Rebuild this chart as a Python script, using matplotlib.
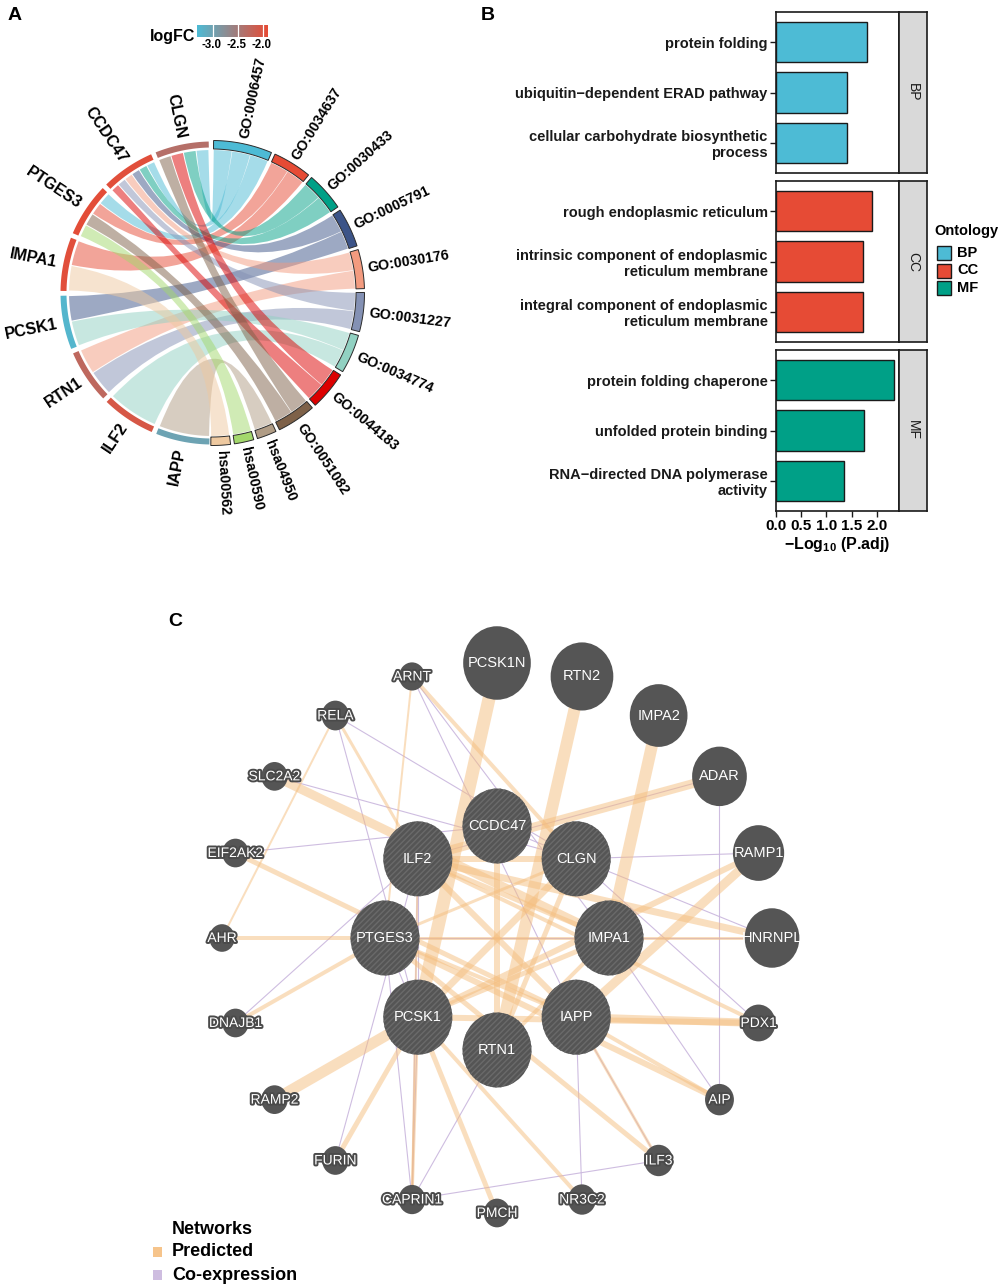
import numpy as np
import matplotlib
matplotlib.use('Agg')
import matplotlib.pyplot as plt
from matplotlib.path import Path
from matplotlib.patches import PathPatch, Polygon, Ellipse, Rectangle
from matplotlib.colors import LinearSegmentedColormap, Normalize
import matplotlib.patheffects as pe

plt.rcParams['font.family'] = ['Liberation Sans', 'DejaVu Sans']
plt.rcParams['mathtext.fontset'] = 'custom'
plt.rcParams['mathtext.rm'] = 'Liberation Sans'
plt.rcParams['mathtext.bf'] = 'Liberation Sans:bold'
plt.rcParams['mathtext.default'] = 'bf'
plt.rcParams['hatch.linewidth'] = 1.0

# ======================= DATA =======================
# ---- Panel A : GO chord ----
genes = ['IAPP', 'ILF2', 'RTN1', 'PCSK1', 'IMPA1', 'PTGES3', 'CCDC47', 'CLGN']
gene_logfc = [-3.02, -2.05, -2.27, -3.25, -1.95, -1.93, -1.95, -2.35]
terms = ['GO:0006457', 'GO:0034637', 'GO:0030433', 'GO:0005791', 'GO:0030176',
         'GO:0031227', 'GO:0034774', 'GO:0044183', 'GO:0051082',
         'hsa04950', 'hsa00590', 'hsa00562']
term_colors = ['#4DBBD5', '#E64B35', '#00A087', '#3C5488', '#F39B7F',
               '#8491B4', '#91D1C2', '#DC0000', '#7E6148',
               '#B09C85', '#A3D86C', '#EEC9A0']
link_genes = ['IAPP', 'ILF2', 'RTN1', 'RTN1', 'PCSK1', 'PCSK1', 'IMPA1', 'IMPA1',
              'PTGES3', 'PTGES3', 'PTGES3', 'PTGES3',
              'CCDC47', 'CCDC47', 'CCDC47', 'CCDC47', 'CCDC47', 'CCDC47',
              'CLGN', 'CLGN', 'CLGN', 'CLGN']
link_terms = ['hsa04950', 'GO:0034774', 'GO:0030176', 'GO:0031227', 'GO:0005791', 'GO:0034774',
              'GO:0034637', 'hsa00562',
              'GO:0006457', 'GO:0034637', 'GO:0051082', 'hsa00590',
              'GO:0006457', 'GO:0030433', 'GO:0005791', 'GO:0030176', 'GO:0031227', 'GO:0044183',
              'GO:0006457', 'GO:0030433', 'GO:0044183', 'GO:0051082']
logfc_ticks = [-3.0, -2.5, -2.0]
logfc_limits = [-3.32, -1.90]

# ---- Panel B : GO bar chart ----
ontologies = ['BP', 'CC', 'MF']
onto_colors = ['#4DBBD5', '#E64B35', '#00A087']
bp_terms = ['protein folding', 'ubiquitin\u2212dependent ERAD pathway',
            'cellular carbohydrate biosynthetic\nprocess']
bp_vals = [1.80, 1.41, 1.41]
cc_terms = ['rough endoplasmic reticulum', 'intrinsic component of endoplasmic\nreticulum membrane',
            'integral component of endoplasmic\nreticulum membrane']
cc_vals = [1.91, 1.72, 1.72]
mf_terms = ['protein folding chaperone', 'unfolded protein binding',
            'RNA\u2212directed DNA polymerase\nactivity']
mf_vals = [2.34, 1.75, 1.34]
x_ticks = [0.0, 0.5, 1.0, 1.5, 2.0]

# ---- Panel C : GeneMANIA network ----
query_genes = ['IMPA1', 'CLGN', 'CCDC47', 'ILF2', 'PTGES3', 'PCSK1', 'RTN1', 'IAPP']
outer_genes = ['HNRNPL', 'RAMP1', 'ADAR', 'IMPA2', 'RTN2', 'PCSK1N', 'ARNT', 'RELA',
               'SLC2A2', 'EIF2AK2', 'AHR', 'DNAJB1', 'RAMP2', 'FURIN', 'CAPRIN1',
               'PMCH', 'NR3C2', 'ILF3', 'AIP', 'PDX1']
outer_scores = [0.62, 0.55, 0.62, 0.68, 0.78, 0.88, 0.04, 0.07,
                0.05, 0.05, 0.03, 0.05, 0.05, 0.05, 0.06,
                0.05, 0.08, 0.10, 0.10, 0.20]
pred_a = ['PCSK1N', 'RTN2', 'IMPA2', 'ADAR', 'RAMP1', 'RAMP1', 'HNRNPL', 'HNRNPL', 'PDX1', 'PDX1',
          'PDX1', 'AIP', 'AIP', 'ILF3', 'ILF3', 'NR3C2', 'PMCH', 'CAPRIN1', 'CAPRIN1', 'FURIN',
          'RAMP2', 'DNAJB1', 'AHR', 'EIF2AK2', 'SLC2A2', 'RELA', 'RELA', 'ARNT', 'ARNT',
          'CLGN', 'ILF2', 'IMPA1', 'CCDC47', 'ILF2', 'PTGES3', 'CLGN', 'IMPA1', 'PTGES3', 'ILF2']
pred_b = ['PCSK1', 'RTN1', 'IMPA1', 'ILF2', 'IAPP', 'PCSK1', 'ILF2', 'PTGES3', 'IAPP', 'PCSK1',
          'ILF2', 'PTGES3', 'IAPP', 'PTGES3', 'IAPP', 'PCSK1', 'PCSK1', 'PCSK1', 'ILF2', 'PCSK1',
          'PCSK1', 'PTGES3', 'PTGES3', 'IAPP', 'IMPA1', 'AHR', 'ILF2', 'PTGES3', 'CLGN',
          'PCSK1', 'IAPP', 'PCSK1', 'RTN1', 'IMPA1', 'IAPP', 'RTN1', 'RTN1', 'CLGN', 'CLGN']
pred_w = [13, 12, 12, 9, 9, 6, 7, 3, 8, 6,
          4, 6, 4, 5, 3, 4, 5, 3, 2, 5,
          11, 4, 4, 5, 9, 2, 3, 2, 4,
          7, 6, 5, 6, 5, 4, 5, 4, 3, 6]
coex_a = ['RELA', 'ADAR', 'ADAR', 'EIF2AK2', 'RAMP1', 'HNRNPL', 'HNRNPL', 'CAPRIN1', 'CAPRIN1',
          'CAPRIN1', 'CAPRIN1', 'CAPRIN1', 'ILF3', 'NR3C2', 'FURIN', 'DNAJB1', 'ARNT', 'RELA',
          'SLC2A2', 'PDX1', 'IMPA1', 'AIP', 'ARNT', 'PTGES3', 'ILF2']
coex_b = ['CLGN', 'ILF2', 'AIP', 'CCDC47', 'CLGN', 'CCDC47', 'PTGES3', 'PCSK1', 'ILF2',
          'PTGES3', 'ILF3', 'RTN1', 'IAPP', 'IAPP', 'ILF2', 'ILF2', 'IMPA1', 'PCSK1',
          'CLGN', 'CLGN', 'PTGES3', 'IMPA1', 'IAPP', 'PCSK1', 'PCSK1']

# ======================= FIGURE =======================
W, H = 1003, 1287
fig = plt.figure(figsize=(W / 100, H / 100), dpi=100)
ax = fig.add_axes([0, 0, 1, 1])
ax.set_xlim(0, W)
ax.set_ylim(H, 0)
ax.axis('off')
ax.set_facecolor('none')

# ----------------------- Panel A -----------------------
cx, cy = 212, 293


def P(theta, r):
    t = np.deg2rad(theta)
    return (cx + r * np.sin(t), cy - r * np.cos(t))


def arc_pts(t1, t2, r, n=40):
    return [P(t, r) for t in np.linspace(t1, t2, n)]


cmap = LinearSegmentedColormap.from_list('lfc', ['#4DBBD5', '#E64B35'])
norm = Normalize(*logfc_limits)

term_n = [link_terms.count(t) for t in terms]
unit, tgap, t0 = 7.45, 1.45, 0.6
term_span = {}
a = t0
for t, n in zip(terms, term_n):
    term_span[t] = (a, a + n * unit)
    a += n * unit + tgap
gw, ggap, g0 = 20.6, 1.85, 181.0
gene_span = {g: (g0 + i * (gw + ggap), g0 + i * (gw + ggap) + gw) for i, g in enumerate(genes)}

gene_slot, term_slot = {}, {}
for g in genes:
    lt = [t for gg, t in zip(link_genes, link_terms) if gg == g]
    lt.sort(key=lambda t: -terms.index(t))
    s, e = gene_span[g]
    w = (e - s) / len(lt)
    for j, t in enumerate(lt):
        gene_slot[(g, t)] = (s + j * w, s + (j + 1) * w)
for t in terms:
    lg = [g for g, tt in zip(link_genes, link_terms) if tt == t]
    lg.sort(key=lambda g: -genes.index(g))
    s, e = term_span[t]
    w = (e - s) / len(lg)
    for j, g in enumerate(lg):
        term_slot[(g, t)] = (s + j * w, s + (j + 1) * w)

r_rib = 143


def ribbon(a1, a2, b1, b2, r):
    verts, codes = [], []
    pts = arc_pts(a1, a2, r)
    verts += pts
    codes += [Path.MOVETO] + [Path.LINETO] * (len(pts) - 1)
    verts += [(cx, cy), P(b1, r)]
    codes += [Path.CURVE3] * 2
    pts = arc_pts(b1, b2, r)[1:]
    verts += pts
    codes += [Path.LINETO] * len(pts)
    verts += [(cx, cy), P(a1, r)]
    codes += [Path.CURVE3] * 2
    verts.append(P(a1, r))
    codes.append(Path.CLOSEPOLY)
    return Path(verts, codes)


for g, t in zip(link_genes, link_terms):
    a1, a2 = gene_slot[(g, t)]
    b1, b2 = term_slot[(g, t)]
    col = term_colors[terms.index(t)]
    ax.add_patch(PathPatch(ribbon(a1 + 0.2, a2 - 0.2, b1 + 0.1, b2 - 0.1, r_rib),
                           facecolor=col, alpha=0.5, edgecolor='none', zorder=2))


def band(t1, t2, r1, r2, **kw):
    pts = arc_pts(t1, t2, r2) + arc_pts(t2, t1, r1)
    ax.add_patch(Polygon(pts, closed=True, **kw))


for g, v in zip(genes, gene_logfc):
    s, e = gene_span[g]
    band(s, e, 145.5, 151.5, facecolor=cmap(norm(v)), edgecolor='none', zorder=3)
for t, c in zip(terms, term_colors):
    s, e = term_span[t]
    band(s, e, 144.0, 152.5, facecolor=c, edgecolor='#2b2b2b', linewidth=0.7, zorder=3)


def radial_label(theta, text, r, size):
    x, y = P(theta, r)
    if theta < 180:
        rot, ha = 90 - theta, 'left'
    else:
        rot, ha = 270 - theta, 'right'
    ax.text(x, y, text, rotation=rot, rotation_mode='anchor', ha=ha, va='center',
            fontsize=size, fontweight='bold', color='black', zorder=5)


for g in genes:
    s, e = gene_span[g]
    radial_label((s + e) / 2, g, 158, 11.5)
for t in terms:
    s, e = term_span[t]
    radial_label((s + e) / 2, t, 158, 10.3)

# logFC colour bar
cb_l, cb_r, cb_t, cb_b = 197, 268, 25, 37
cax = fig.add_axes([cb_l / W, 1 - cb_b / H, (cb_r - cb_l) / W, (cb_b - cb_t) / H])
grad = np.linspace(logfc_limits[0], logfc_limits[1], 256)[None, :]
cax.imshow(grad, aspect='auto', cmap=cmap, norm=norm,
           extent=[logfc_limits[0], logfc_limits[1], 0, 1])
for tv in logfc_ticks:
    cax.axvline(tv, color='white', lw=0.9)
cax.set_xlim(*logfc_limits)
cax.axis('off')
for tv in logfc_ticks:
    xp = cb_l + (tv - logfc_limits[0]) / (logfc_limits[1] - logfc_limits[0]) * (cb_r - cb_l)
    ax.text(xp - 1, 45.5, '%.1f' % tv, ha='center', va='center', fontsize=8.3,
            fontweight='bold', color='black')
ax.text(195, 41, 'logFC', ha='right', va='baseline', fontsize=11.5, fontweight='bold')

# ----------------------- Panel B -----------------------
pan_y = [(12, 173), (181, 342), (350, 511)]
bx0, bx1, sx1 = 776, 899, 927
all_terms = [bp_terms, cc_terms, mf_terms]
all_vals = [bp_vals, cc_vals, mf_vals]
for k, ((top, bot), labs, vals, col, name) in enumerate(zip(pan_y, all_terms, all_vals,
                                                           onto_colors, ontologies)):
    axb = fig.add_axes([bx0 / W, 1 - bot / H, (bx1 - bx0) / W, (bot - top) / H])
    yy = [3, 2, 1]
    axb.barh(yy, vals, height=0.8, color=col, edgecolor='#1a1a1a', linewidth=1.0)
    axb.set_xlim(0, 2.44)
    axb.set_ylim(0.4, 3.6)
    axb.set_yticks(yy)
    axb.set_yticklabels(labs, fontsize=10.5, fontweight='bold', color='#1a1a1a')
    for tl in axb.get_yticklabels():
        tl.set_multialignment('right')
        tl.set_linespacing(1.15)
    axb.tick_params(axis='y', length=4, width=1.0, pad=2, color='#1a1a1a')
    for sp in axb.spines.values():
        sp.set_linewidth(1.2)
        sp.set_color('#1a1a1a')
    if k < 2:
        axb.set_xticks([])
    else:
        axb.set_xticks(x_ticks)
        axb.set_xticklabels(['%.1f' % v for v in x_ticks], fontsize=11, fontweight='bold')
        axb.tick_params(axis='x', length=4, width=1.0, pad=2, color='#1a1a1a')
        axb.set_xlabel('\u2212Log$_{10}$ (P.adj)', fontsize=11.5, fontweight='bold', labelpad=1)
    sax = fig.add_axes([bx1 / W, 1 - bot / H, (sx1 - bx1) / W, (bot - top) / H])
    sax.set_facecolor('#D9D9D9')
    sax.set_xticks([])
    sax.set_yticks([])
    for sp in sax.spines.values():
        sp.set_linewidth(1.2)
        sp.set_color('#1a1a1a')
    sax.text(0.5, 0.5, name, rotation=-90, ha='center', va='center', fontsize=10,
             color='#1a1a1a', transform=sax.transAxes)

# Ontology legend
ax.text(934, 231, 'Ontology', ha='left', va='center', fontsize=10.5, fontweight='bold')
for i, (name, col) in enumerate(zip(ontologies, onto_colors)):
    yc = 253 + i * 17.5
    ax.add_patch(Rectangle((937, yc - 7), 14, 14, facecolor=col, edgecolor='#1a1a1a', lw=1.0))
    ax.text(957, yc, name, ha='left', va='center', fontsize=10.5, fontweight='bold')

# ----------------------- Panel C -----------------------
ncx, ncy = 497, 938
r_in_ring, r_out_ring = 112, 275
pos, rad = {}, {}
for i, g in enumerate(query_genes):
    ang = np.deg2rad(45 * i)
    pos[g] = (ncx + r_in_ring * np.cos(ang), ncy - r_in_ring * np.sin(ang))
    rad[g] = 37.5
for j, (g, sc) in enumerate(zip(outer_genes, outer_scores)):
    ang = np.deg2rad(18 * j)
    pos[g] = (ncx + r_out_ring * np.cos(ang), ncy - r_out_ring * np.sin(ang))
    rad[g] = 13 + 27 * sc

pred_col = '#F5BE7E'
coex_col = '#C9B6DD'
for a_, b_ in zip(coex_a, coex_b):
    (x1, y1), (x2, y2) = pos[a_], pos[b_]
    ax.plot([x1, x2], [y1, y2], color=coex_col, lw=0.8, alpha=0.9, zorder=6,
            solid_capstyle='butt')
for a_, b_, w_ in zip(pred_a, pred_b, pred_w):
    (x1, y1), (x2, y2) = pos[a_], pos[b_]
    ax.plot([x1, x2], [y1, y2], color=pred_col, lw=w_ * 0.72, alpha=0.5, zorder=7,
            solid_capstyle='butt')

outline = [pe.withStroke(linewidth=2.8, foreground='#4a4a4a')]
for g in query_genes:
    x, y = pos[g]
    r = rad[g]
    ax.add_patch(Ellipse((x, y), 1.84 * r, 2 * r, facecolor='#555555', edgecolor='#6a6a6a',
                         hatch='//////', lw=0, zorder=10))
    ax.text(x, y, g, ha='center', va='center', fontsize=10.5, color='white', zorder=11)
for g in outer_genes:
    x, y = pos[g]
    r = rad[g]
    ax.add_patch(Ellipse((x, y), 1.84 * r, 2 * r, facecolor='#555555', edgecolor='none',
                         lw=0, zorder=10))
    if r > 25:
        ax.text(x, y, g, ha='center', va='center', fontsize=10.5, color='white', zorder=11)
    else:
        ax.text(x, y, g, ha='center', va='center', fontsize=10, color='white', zorder=11,
                path_effects=outline)

# Networks legend
ax.text(172, 1229, 'Networks', ha='left', va='center', fontsize=13, fontweight='bold')
for i, (name, col) in enumerate(zip(['Predicted', 'Co-expression'], [pred_col, coex_col])):
    yc = 1252 + i * 23
    ax.add_patch(Rectangle((153, yc - 5), 9, 10, facecolor=col, edgecolor='none', alpha=0.9))
    ax.text(172, yc, name, ha='left', va='center', fontsize=13, fontweight='bold')

# Panel letters
ax.text(8, 16, 'A', ha='left', va='center', fontsize=14, fontweight='bold')
ax.text(481, 16, 'B', ha='left', va='center', fontsize=14, fontweight='bold')
ax.text(168, 621, 'C', ha='left', va='center', fontsize=14, fontweight='bold')

fig.savefig('out.png', dpi=100)
